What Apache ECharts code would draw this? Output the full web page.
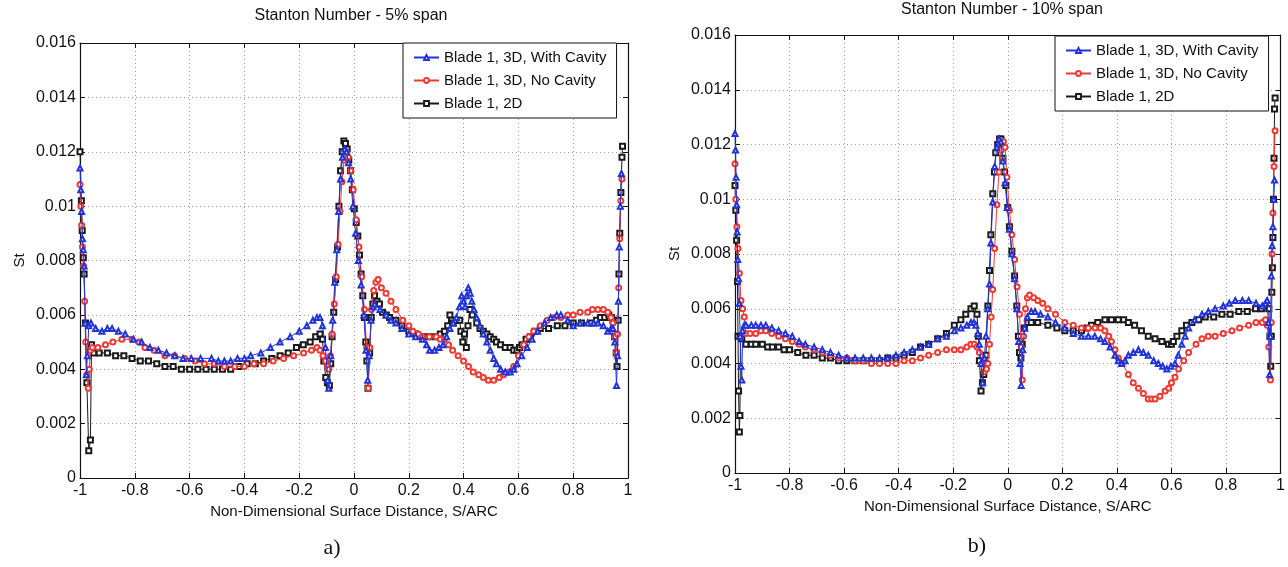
<!DOCTYPE html>
<html>
<head>
<meta charset="utf-8">
<script src="https://cdn.jsdelivr.net/npm/echarts@6/dist/echarts.min.js"></script>
<style>
html,body{margin:0;padding:0;background:#fff;}
#c{width:1288px;height:567px;}
</style>
</head>
<body>
<div id="c"></div>
<script>
// ---------- DATA ----------
const seriesNames = ["Blade 1, 3D, With Cavity", "Blade 1, 3D, No Cavity", "Blade 1, 2D"];
const panelTitles = ["Stanton Number - 5% span", "Stanton Number - 10% span"];
const panelTags = ["a)", "b)"];
const xAxisName = "Non-Dimensional Surface Distance, S/ARC";
const yAxisName = "St";

// 5% span, [S/ARC, St]
const span5WithCavity = [[-1.000,0.0114],[-0.997,0.0106],[-0.994,0.0098],[-0.991,0.0088],[-0.988,0.0084],[-0.985,0.0078],[-0.981,0.0057],[-0.977,0.0038],[-0.973,0.0045],[-0.968,0.0056],[-0.960,0.0057],[-0.943,0.0055],[-0.920,0.0054],[-0.900,0.0055],[-0.883,0.0055],[-0.860,0.0054],[-0.835,0.0053],[-0.805,0.0051],[-0.775,0.0050],[-0.745,0.0048],[-0.714,0.0047],[-0.684,0.0046],[-0.654,0.0045],[-0.624,0.0044],[-0.594,0.0044],[-0.560,0.0044],[-0.520,0.0044],[-0.495,0.0043],[-0.473,0.0043],[-0.450,0.0043],[-0.425,0.0044],[-0.400,0.0044],[-0.377,0.0045],[-0.340,0.0046],[-0.305,0.0048],[-0.270,0.0050],[-0.233,0.0052],[-0.200,0.0054],[-0.172,0.0056],[-0.150,0.0058],[-0.135,0.0059],[-0.124,0.0059],[-0.115,0.0056],[-0.104,0.0048],[-0.096,0.0036],[-0.092,0.0033],[-0.085,0.0045],[-0.078,0.0058],[-0.070,0.0072],[-0.063,0.0084],[-0.056,0.0098],[-0.049,0.0110],[-0.042,0.0118],[-0.034,0.0121],[-0.027,0.0120],[-0.020,0.0116],[-0.012,0.0110],[-0.004,0.0100],[0.006,0.0090],[0.016,0.0080],[0.026,0.0071],[0.036,0.0060],[0.044,0.0047],[0.050,0.0036],[0.055,0.0045],[0.062,0.0058],[0.070,0.0063],[0.076,0.0064],[0.095,0.0062],[0.117,0.0060],[0.135,0.0058],[0.153,0.0057],[0.175,0.0055],[0.200,0.0053],[0.225,0.0052],[0.250,0.0051],[0.265,0.0049],[0.276,0.0047],[0.294,0.0047],[0.310,0.0048],[0.325,0.0049],[0.338,0.0052],[0.350,0.0055],[0.362,0.0057],[0.374,0.0059],[0.385,0.0063],[0.393,0.0067],[0.400,0.0065],[0.405,0.0063],[0.411,0.0067],[0.417,0.0070],[0.424,0.0068],[0.430,0.0065],[0.438,0.0062],[0.448,0.0059],[0.460,0.0056],[0.472,0.0053],[0.485,0.0050],[0.497,0.0047],[0.510,0.0044],[0.520,0.0042],[0.535,0.0040],[0.552,0.0039],[0.570,0.0039],[0.583,0.0040],[0.595,0.0042],[0.612,0.0045],[0.632,0.0048],[0.650,0.0051],[0.670,0.0054],[0.695,0.0057],[0.718,0.0059],[0.740,0.0060],[0.755,0.0060],[0.780,0.0058],[0.800,0.0056],[0.825,0.0057],[0.853,0.0057],[0.875,0.0057],[0.890,0.0057],[0.910,0.0056],[0.926,0.0054],[0.938,0.0055],[0.945,0.0055],[0.952,0.0050],[0.958,0.0034],[0.962,0.0045],[0.965,0.0065],[0.968,0.0085],[0.972,0.0100],[0.976,0.0112]];
const span5NoCavity = [[-1.000,0.0108],[-0.997,0.0100],[-0.994,0.0093],[-0.991,0.0085],[-0.987,0.0078],[-0.983,0.0065],[-0.979,0.0050],[-0.975,0.0038],[-0.970,0.0033],[-0.966,0.0040],[-0.962,0.0047],[-0.955,0.0048],[-0.935,0.0048],[-0.907,0.0049],[-0.880,0.0050],[-0.847,0.0051],[-0.810,0.0051],[-0.785,0.0050],[-0.763,0.0048],[-0.730,0.0047],[-0.690,0.0045],[-0.655,0.0045],[-0.618,0.0044],[-0.580,0.0043],[-0.546,0.0042],[-0.510,0.0042],[-0.473,0.0041],[-0.435,0.0041],[-0.400,0.0041],[-0.365,0.0042],[-0.330,0.0042],[-0.295,0.0043],[-0.257,0.0044],[-0.220,0.0045],[-0.184,0.0046],[-0.155,0.0047],[-0.135,0.0048],[-0.124,0.0047],[-0.113,0.0045],[-0.104,0.0043],[-0.097,0.0041],[-0.092,0.0040],[-0.086,0.0045],[-0.080,0.0053],[-0.072,0.0064],[-0.065,0.0074],[-0.058,0.0086],[-0.051,0.0098],[-0.044,0.0109],[-0.036,0.0117],[-0.029,0.0120],[-0.021,0.0118],[-0.012,0.0113],[-0.003,0.0106],[0.008,0.0095],[0.018,0.0085],[0.028,0.0074],[0.038,0.0062],[0.046,0.0048],[0.052,0.0033],[0.058,0.0048],[0.064,0.0062],[0.072,0.0069],[0.080,0.0072],[0.088,0.0073],[0.100,0.0070],[0.117,0.0068],[0.135,0.0065],[0.153,0.0062],[0.178,0.0058],[0.200,0.0056],[0.215,0.0054],[0.235,0.0053],[0.250,0.0052],[0.275,0.0052],[0.300,0.0052],[0.315,0.0051],[0.330,0.0051],[0.345,0.0049],[0.360,0.0047],[0.380,0.0045],[0.400,0.0043],[0.418,0.0041],[0.435,0.0039],[0.455,0.0038],[0.472,0.0037],[0.490,0.0036],[0.510,0.0036],[0.530,0.0037],[0.546,0.0038],[0.565,0.0039],[0.583,0.0041],[0.600,0.0045],[0.620,0.0049],[0.638,0.0052],[0.656,0.0054],[0.680,0.0056],[0.705,0.0058],[0.730,0.0059],[0.755,0.0059],[0.780,0.0060],[0.800,0.0060],[0.825,0.0061],[0.853,0.0061],[0.870,0.0062],[0.890,0.0062],[0.910,0.0062],[0.926,0.0061],[0.938,0.0059],[0.945,0.0057],[0.952,0.0052],[0.958,0.0046],[0.962,0.0053],[0.966,0.0070],[0.970,0.0088],[0.974,0.0102],[0.978,0.0110]];
const span5TwoD = [[-1.000,0.0120],[-0.995,0.0102],[-0.992,0.0091],[-0.988,0.0081],[-0.985,0.0075],[-0.980,0.0057],[-0.975,0.0035],[-0.968,0.0010],[-0.962,0.0014],[-0.958,0.0049],[-0.950,0.0046],[-0.930,0.0046],[-0.900,0.0046],[-0.870,0.0045],[-0.840,0.0045],[-0.810,0.0044],[-0.780,0.0043],[-0.750,0.0043],[-0.720,0.0042],[-0.690,0.0041],[-0.660,0.0041],[-0.630,0.0040],[-0.600,0.0040],[-0.570,0.0040],[-0.540,0.0040],[-0.510,0.0040],[-0.480,0.0040],[-0.450,0.0040],[-0.420,0.0041],[-0.390,0.0042],[-0.360,0.0042],[-0.330,0.0043],[-0.300,0.0044],[-0.270,0.0045],[-0.240,0.0046],[-0.210,0.0048],[-0.185,0.0049],[-0.160,0.0050],[-0.140,0.0052],[-0.124,0.0053],[-0.115,0.0051],[-0.110,0.0043],[-0.103,0.0037],[-0.097,0.0035],[-0.090,0.0034],[-0.085,0.0042],[-0.080,0.0052],[-0.074,0.0061],[-0.067,0.0073],[-0.060,0.0085],[-0.055,0.0100],[-0.049,0.0113],[-0.043,0.0120],[-0.037,0.0124],[-0.031,0.0123],[-0.025,0.0121],[-0.019,0.0117],[-0.013,0.0113],[-0.006,0.0106],[0.001,0.0099],[0.008,0.0094],[0.014,0.0089],[0.020,0.0082],[0.026,0.0075],[0.032,0.0067],[0.038,0.0059],[0.043,0.0050],[0.047,0.0043],[0.051,0.0033],[0.057,0.0046],[0.063,0.0059],[0.069,0.0064],[0.075,0.0067],[0.084,0.0065],[0.093,0.0064],[0.104,0.0061],[0.118,0.0060],[0.130,0.0059],[0.153,0.0058],[0.175,0.0056],[0.200,0.0054],[0.225,0.0053],[0.250,0.0052],[0.275,0.0052],[0.300,0.0052],[0.315,0.0053],[0.330,0.0054],[0.342,0.0056],[0.350,0.0060],[0.356,0.0058],[0.362,0.0057],[0.374,0.0058],[0.386,0.0058],[0.390,0.0054],[0.397,0.0050],[0.403,0.0053],[0.410,0.0048],[0.416,0.0056],[0.423,0.0062],[0.432,0.0060],[0.448,0.0057],[0.460,0.0055],[0.472,0.0054],[0.485,0.0053],[0.497,0.0052],[0.510,0.0051],[0.520,0.0050],[0.535,0.0049],[0.552,0.0048],[0.570,0.0048],[0.583,0.0047],[0.595,0.0047],[0.604,0.0048],[0.613,0.0049],[0.628,0.0051],[0.644,0.0052],[0.660,0.0054],[0.680,0.0055],[0.710,0.0055],[0.742,0.0056],[0.770,0.0056],[0.800,0.0057],[0.830,0.0057],[0.865,0.0057],[0.885,0.0058],[0.900,0.0059],[0.915,0.0059],[0.930,0.0060],[0.940,0.0059],[0.945,0.0058],[0.951,0.0052],[0.957,0.0046],[0.960,0.0041],[0.964,0.0058],[0.967,0.0075],[0.970,0.0090],[0.974,0.0105],[0.978,0.0118],[0.980,0.0122]];

// 10% span, [S/ARC, St]
const span10WithCavity = [[-1.000,0.0124],[-0.998,0.0118],[-0.996,0.0108],[-0.994,0.0098],[-0.992,0.0088],[-0.990,0.0078],[-0.987,0.0071],[-0.984,0.0062],[-0.981,0.0050],[-0.978,0.0039],[-0.975,0.0034],[-0.972,0.0052],[-0.966,0.0054],[-0.960,0.0054],[-0.940,0.0054],[-0.924,0.0054],[-0.905,0.0054],[-0.887,0.0054],[-0.865,0.0053],[-0.840,0.0052],[-0.815,0.0051],[-0.790,0.0050],[-0.765,0.0048],[-0.742,0.0047],[-0.710,0.0046],[-0.680,0.0045],[-0.650,0.0044],[-0.620,0.0043],[-0.590,0.0042],[-0.560,0.0042],[-0.530,0.0042],[-0.500,0.0042],[-0.470,0.0042],[-0.440,0.0042],[-0.410,0.0043],[-0.380,0.0044],[-0.350,0.0045],[-0.320,0.0046],[-0.290,0.0047],[-0.257,0.0049],[-0.225,0.0050],[-0.196,0.0052],[-0.172,0.0053],[-0.150,0.0054],[-0.135,0.0055],[-0.124,0.0055],[-0.117,0.0054],[-0.110,0.0051],[-0.104,0.0047],[-0.098,0.0040],[-0.092,0.0033],[-0.086,0.0042],[-0.080,0.0050],[-0.074,0.0060],[-0.067,0.0069],[-0.062,0.0084],[-0.055,0.0099],[-0.048,0.0112],[-0.040,0.0119],[-0.032,0.0122],[-0.025,0.0121],[-0.018,0.0114],[-0.010,0.0106],[-0.002,0.0097],[0.006,0.0089],[0.015,0.0080],[0.025,0.0071],[0.033,0.0060],[0.040,0.0048],[0.045,0.0040],[0.049,0.0032],[0.055,0.0045],[0.062,0.0053],[0.072,0.0057],[0.086,0.0059],[0.100,0.0059],[0.120,0.0058],[0.147,0.0057],[0.175,0.0055],[0.209,0.0053],[0.240,0.0051],[0.270,0.0050],[0.295,0.0050],[0.319,0.0050],[0.340,0.0049],[0.356,0.0048],[0.375,0.0046],[0.393,0.0043],[0.405,0.0041],[0.417,0.0040],[0.430,0.0041],[0.442,0.0043],[0.460,0.0044],[0.479,0.0045],[0.497,0.0044],[0.515,0.0043],[0.535,0.0041],[0.552,0.0040],[0.568,0.0039],[0.583,0.0038],[0.598,0.0039],[0.613,0.0040],[0.625,0.0043],[0.638,0.0047],[0.650,0.0050],[0.663,0.0053],[0.685,0.0056],[0.712,0.0058],[0.735,0.0059],[0.760,0.0060],[0.790,0.0061],[0.812,0.0062],[0.834,0.0063],[0.860,0.0063],[0.883,0.0063],[0.910,0.0062],[0.933,0.0061],[0.945,0.0062],[0.951,0.0063],[0.955,0.0055],[0.960,0.0036],[0.963,0.0050],[0.966,0.0072],[0.969,0.0083],[0.972,0.0090],[0.975,0.0100],[0.978,0.0107]];
const span10NoCavity = [[-1.000,0.0113],[-0.997,0.0100],[-0.993,0.0090],[-0.989,0.0082],[-0.984,0.0073],[-0.978,0.0063],[-0.972,0.0060],[-0.966,0.0057],[-0.960,0.0051],[-0.945,0.0051],[-0.924,0.0051],[-0.905,0.0052],[-0.887,0.0052],[-0.865,0.0051],[-0.840,0.0050],[-0.815,0.0049],[-0.790,0.0048],[-0.765,0.0047],[-0.742,0.0046],[-0.710,0.0045],[-0.680,0.0044],[-0.650,0.0043],[-0.620,0.0042],[-0.590,0.0042],[-0.560,0.0041],[-0.530,0.0041],[-0.500,0.0040],[-0.470,0.0040],[-0.440,0.0040],[-0.410,0.0040],[-0.380,0.0041],[-0.350,0.0041],[-0.320,0.0042],[-0.290,0.0043],[-0.257,0.0044],[-0.225,0.0045],[-0.196,0.0045],[-0.172,0.0045],[-0.150,0.0046],[-0.135,0.0047],[-0.123,0.0047],[-0.113,0.0046],[-0.104,0.0044],[-0.095,0.0040],[-0.086,0.0037],[-0.078,0.0038],[-0.073,0.0040],[-0.067,0.0047],[-0.061,0.0057],[-0.055,0.0067],[-0.048,0.0082],[-0.040,0.0098],[-0.032,0.0110],[-0.024,0.0118],[-0.016,0.0121],[-0.010,0.0119],[-0.003,0.0108],[0.006,0.0096],[0.015,0.0087],[0.025,0.0078],[0.034,0.0068],[0.043,0.0058],[0.049,0.0046],[0.053,0.0034],[0.058,0.0050],[0.065,0.0060],[0.072,0.0064],[0.080,0.0065],[0.095,0.0064],[0.110,0.0063],[0.128,0.0062],[0.147,0.0060],[0.175,0.0058],[0.209,0.0055],[0.240,0.0054],[0.270,0.0053],[0.295,0.0053],[0.320,0.0053],[0.340,0.0053],[0.356,0.0052],[0.370,0.0050],[0.380,0.0048],[0.393,0.0045],[0.405,0.0042],[0.420,0.0040],[0.442,0.0036],[0.460,0.0033],[0.479,0.0031],[0.497,0.0029],[0.515,0.0027],[0.528,0.0027],[0.540,0.0027],[0.558,0.0028],[0.577,0.0030],[0.590,0.0031],[0.600,0.0033],[0.613,0.0035],[0.626,0.0038],[0.645,0.0041],[0.663,0.0044],[0.690,0.0047],[0.712,0.0049],[0.735,0.0050],[0.760,0.0050],[0.790,0.0051],[0.822,0.0052],[0.850,0.0053],[0.883,0.0054],[0.910,0.0055],[0.933,0.0055],[0.945,0.0056],[0.951,0.0054],[0.957,0.0046],[0.963,0.0034],[0.966,0.0055],[0.969,0.0080],[0.972,0.0095],[0.976,0.0112],[0.980,0.0125]];
const span10TwoD = [[-1.000,0.0105],[-0.997,0.0096],[-0.994,0.0085],[-0.991,0.0070],[-0.989,0.0050],[-0.987,0.0030],[-0.984,0.0015],[-0.982,0.0021],[-0.980,0.0050],[-0.975,0.0049],[-0.960,0.0047],[-0.940,0.0047],[-0.924,0.0047],[-0.900,0.0047],[-0.880,0.0046],[-0.863,0.0046],[-0.840,0.0046],[-0.820,0.0045],[-0.800,0.0045],[-0.770,0.0044],[-0.740,0.0043],[-0.710,0.0043],[-0.680,0.0042],[-0.650,0.0042],[-0.620,0.0041],[-0.590,0.0041],[-0.560,0.0041],[-0.530,0.0041],[-0.500,0.0041],[-0.470,0.0041],[-0.440,0.0042],[-0.410,0.0042],[-0.380,0.0043],[-0.350,0.0044],[-0.320,0.0046],[-0.290,0.0047],[-0.257,0.0049],[-0.225,0.0051],[-0.196,0.0054],[-0.172,0.0056],[-0.154,0.0058],[-0.135,0.0060],[-0.123,0.0061],[-0.113,0.0058],[-0.108,0.0050],[-0.104,0.0041],[-0.098,0.0030],[-0.093,0.0033],[-0.088,0.0036],[-0.080,0.0043],[-0.073,0.0061],[-0.067,0.0074],[-0.062,0.0087],[-0.055,0.0102],[-0.049,0.0110],[-0.044,0.0117],[-0.037,0.0120],[-0.030,0.0122],[-0.025,0.0122],[-0.018,0.0115],[-0.012,0.0110],[-0.007,0.0105],[0.000,0.0097],[0.006,0.0090],[0.015,0.0081],[0.025,0.0072],[0.033,0.0061],[0.039,0.0050],[0.043,0.0044],[0.048,0.0042],[0.053,0.0047],[0.061,0.0053],[0.072,0.0055],[0.086,0.0055],[0.110,0.0055],[0.147,0.0054],[0.180,0.0053],[0.209,0.0052],[0.240,0.0052],[0.270,0.0052],[0.290,0.0053],[0.307,0.0054],[0.330,0.0055],[0.356,0.0056],[0.380,0.0056],[0.405,0.0056],[0.425,0.0056],[0.442,0.0055],[0.465,0.0054],[0.490,0.0052],[0.515,0.0050],[0.540,0.0049],[0.565,0.0048],[0.589,0.0047],[0.600,0.0047],[0.607,0.0048],[0.620,0.0050],[0.638,0.0052],[0.655,0.0054],[0.675,0.0055],[0.700,0.0056],[0.724,0.0057],[0.755,0.0057],[0.785,0.0058],[0.815,0.0058],[0.847,0.0059],[0.878,0.0059],[0.908,0.0060],[0.930,0.0060],[0.945,0.0061],[0.957,0.0060],[0.961,0.0050],[0.964,0.0039],[0.966,0.0050],[0.968,0.0066],[0.970,0.0075],[0.972,0.0086],[0.974,0.0100],[0.976,0.0115],[0.978,0.0133],[0.980,0.0137]];

const xTickMin = -1, xTickMax = 1, xTickStep = 0.2;
const yTickMin = 0, yTickMax = 0.016, yTickStep = 0.002;

// ---------- STYLE ----------
const FONT = "'Liberation Sans', Arial, Helvetica, sans-serif";
const colors = ["#2233d8", "#ee3a33", "#1a1a1a"];
const symbols = ["emptyTriangle", "emptyCircle", "emptyRect"];
const panelData = [[span5WithCavity, span5NoCavity, span5TwoD], [span10WithCavity, span10NoCavity, span10TwoD]];

const grids = [
  {left: 80, top: 43, width: 548, height: 435},
  {left: 735, top: 35, width: 547, height: 438}
];

const splitStyle = {show: true, lineStyle: {color: "#9a9a9a", type: [1, 3], width: 1}};
const axisLineStyle = {show: true, onZero: false, lineStyle: {color: "#111", width: 1.2}};
const tickStyle = {show: true, inside: true, length: 5, lineStyle: {color: "#111"}};
const labelStyle = {color: "#111", fontSize: 16, fontFamily: FONT};
const nameStyle = {color: "#111", fontSize: 15, fontFamily: FONT};

const xAxes = [], yAxes = [], series = [], legends = [], graphics = [];
grids.forEach((g, i) => {
  xAxes.push({
    gridIndex: i, type: "value", min: xTickMin, max: xTickMax, interval: xTickStep,
    position: "bottom",
    axisLine: axisLineStyle, axisTick: tickStyle,
    axisLabel: Object.assign({margin: 5, formatter: v => String(Math.round(v * 10) / 10)}, labelStyle),
    splitLine: splitStyle,
    name: xAxisName, nameLocation: "middle", nameGap: 24, nameTextStyle: nameStyle
  });
  xAxes.push({
    gridIndex: i, type: "value", min: xTickMin, max: xTickMax, interval: xTickStep,
    position: "top",
    axisLine: axisLineStyle, axisTick: tickStyle,
    axisLabel: {show: false}, splitLine: {show: false}
  });
  yAxes.push({
    gridIndex: i, type: "value", min: yTickMin, max: yTickMax, interval: yTickStep,
    position: "left",
    axisLine: axisLineStyle, axisTick: tickStyle,
    axisLabel: Object.assign({margin: 4, formatter: v => String(Math.round(v * 1000) / 1000)}, labelStyle),
    splitLine: splitStyle,
    name: yAxisName, nameLocation: "middle", nameGap: 53, nameRotate: 90, nameTextStyle: nameStyle
  });
  yAxes.push({
    gridIndex: i, type: "value", min: yTickMin, max: yTickMax, interval: yTickStep,
    position: "right",
    axisLine: axisLineStyle, axisTick: tickStyle,
    axisLabel: {show: false}, splitLine: {show: false}
  });
  panelData[i].forEach((d, k) => {
    series.push({
      type: "line", name: seriesNames[k], data: d,
      xAxisIndex: i * 2, yAxisIndex: i * 2,
      symbol: symbols[k], symbolSize: 5, showAllSymbol: true,
      lineStyle: {color: colors[k], width: 1},
      itemStyle: {color: colors[k], borderColor: colors[k], borderWidth: 1},
      z: 3 - k
    });
  });
});

const legendBase = {
  data: seriesNames, orient: "vertical",
  padding: [7, 10], itemGap: 8, itemWidth: 25, itemHeight: 6,
  backgroundColor: "#fff", borderColor: "#111", borderWidth: 1, borderRadius: 0,
  textStyle: {color: "#111", fontSize: 15, fontFamily: FONT}, selectedMode: false
};
legends.push(Object.assign({left: 403, top: 43}, legendBase));
legends.push(Object.assign({left: 1055, top: 36}, legendBase));

const titlePos = [[351, 16], [1002, 10]];
const tagPos = [[332, 548], [977, 546]];
[0, 1].forEach(i => {
  graphics.push({type: "text", x: titlePos[i][0], y: titlePos[i][1],
    style: {text: panelTitles[i], fill: "#111", font: "16px " + FONT, textAlign: "center", textVerticalAlign: "middle"}});
  graphics.push({type: "text", x: tagPos[i][0], y: tagPos[i][1],
    style: {text: panelTags[i], fill: "#111", font: "22px 'Liberation Serif', 'Times New Roman', serif", textAlign: "center", textVerticalAlign: "middle"}});
});

const chart = echarts.init(document.getElementById("c"), null, {renderer: "canvas"});
chart.setOption({
  animation: false,
  backgroundColor: "#fff",
  grid: grids,
  xAxis: xAxes,
  yAxis: yAxes,
  legend: legends,
  series: series,
  graphic: graphics
});
</script>
</body>
</html>
